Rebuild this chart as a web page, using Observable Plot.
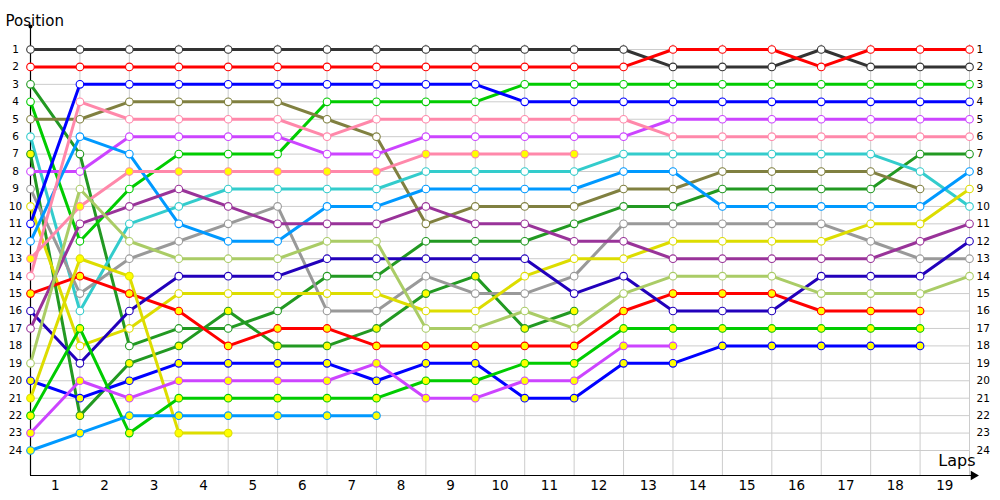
<!DOCTYPE html>
<html><head><meta charset="utf-8">
<script src="https://cdn.jsdelivr.net/npm/d3@7"></script>
<script src="https://cdn.jsdelivr.net/npm/@observablehq/plot@0.6"></script>
<style>body{margin:0;background:#fff}svg{display:block}</style>
</head><body><div id="chart"></div>
<script>
// Laps (0 = start grid)
const laps = [0,1,2,3,4,5,6,7,8,9,10,11,12,13,14,15,16,17,18,19];
const lapLabels = ["1","2","3","4","5","6","7","8","9","10","11","12","13","14","15","16","17","18","19"];
const positionTicks = [1,2,3,4,5,6,7,8,9,10,11,12,13,14,15,16,17,18,19,20,21,22,23,24];

// Drivers (identified by line colour), colour, yellow-marker flag
const driverNames = ["darkgray","red","darkgreen","green","olive","cyan","darkgreenY","magenta","gray","yellow","blue","lightblue","pinkY","pink","redY","navy","purple","lightgreen","blueY","yellowY","greenY","magentaY","lightblueY"];
const driverColors = ["#333333","#ff0000","#229922","#00cc00","#808040","#33cccc","#229922","#cc44ff","#999999","#dddd00","#0000ff","#0099ff","#ff88aa","#ff88aa","#ff0000","#2200bb","#993399","#aacc66","#0000ff","#dddd00","#00cc00","#cc44ff","#0099ff"];
const driverYellow = [0,0,0,0,0,0,1,0,0,0,0,0,1,0,1,0,0,0,1,1,1,1,1];

// Positions per lap (lap 0..19), null = not running
const posDarkgray   = [1,1,1,1,1,1,1,1,1,1,1,1,1,2,2,2,1,2,2,2];
const posRed        = [2,2,2,2,2,2,2,2,2,2,2,2,2,1,1,1,2,1,1,1];
const posDarkgreen  = [3,7,18,17,17,16,14,14,12,12,12,11,10,10,9,9,9,9,7,7];
const posGreen      = [4,12,9,7,7,7,4,4,4,4,3,3,3,3,3,3,3,3,3,3];
const posOlive      = [5,5,4,4,4,4,5,6,11,10,10,10,9,9,8,8,8,8,9,null];
const posCyan       = [6,16,11,10,9,9,9,9,8,8,8,8,7,7,7,7,7,7,8,10];
const posDarkgreenY = [7,22,19,18,16,18,18,17,15,14,17,16,null,null,null,null,null,null,null,null];
const posMagenta    = [8,8,6,6,6,6,7,7,6,6,6,6,6,5,5,5,5,5,5,5];
const posGray       = [9,15,13,12,11,10,16,16,14,15,15,14,11,11,11,11,11,12,13,13];
const posYellow     = [10,18,17,15,15,15,15,15,16,16,14,13,13,12,12,12,12,11,11,9];
const posBlue       = [11,3,3,3,3,3,3,3,3,3,4,4,4,4,4,4,4,4,4,4];
const posLightblue  = [12,6,7,11,12,12,10,10,9,9,9,9,8,8,10,10,10,10,10,8];
const posPinkY      = [13,10,8,8,8,8,8,8,7,7,7,7,null,null,null,null,null,null,null,null];
const posPink       = [14,4,5,5,5,5,6,5,5,5,5,5,5,6,6,6,6,6,6,6];
const posRedY       = [15,14,15,16,18,17,17,18,18,18,18,18,16,15,15,15,16,16,16,null];
const posNavy       = [16,19,16,14,14,14,13,13,13,13,13,15,14,16,16,16,14,14,14,12];
const posPurple     = [17,11,10,9,10,11,11,11,10,11,11,12,12,13,13,13,13,13,12,11];
const posLightgreen = [19,9,12,13,13,13,12,12,17,17,16,17,15,14,14,14,15,15,15,14];
const posBlueY      = [20,21,20,19,19,19,19,20,19,19,21,21,19,19,18,18,18,18,18,null];
const posYellowY    = [21,13,14,23,23,null,null,null,null,null,null,null,null,null,null,null,null,null,null,null];
const posGreenY     = [22,17,23,21,21,21,21,21,20,20,19,19,17,17,17,17,17,17,17,null];
const posMagentaY   = [23,20,21,20,20,20,20,19,21,21,20,20,18,18,null,null,null,null,null,null];
const posLightblueY = [24,23,22,22,22,22,22,22,null,null,null,null,null,null,null,null,null,null,null,null];

const positionSeries = [posDarkgray,posRed,posDarkgreen,posGreen,posOlive,posCyan,posDarkgreenY,posMagenta,posGray,posYellow,posBlue,posLightblue,posPinkY,posPink,posRedY,posNavy,posPurple,posLightgreen,posBlueY,posYellowY,posGreenY,posMagentaY,posLightblueY];

const rows = [];
positionSeries.forEach((series, di) => {
  series.forEach((p, li) => {
    if (p != null) rows.push({driver: driverNames[di], lap: laps[li], pos: p, color: driverColors[di], mfill: driverYellow[di] ? "#ffff00" : "#ffffff"});
  });
});

const font = "DejaVu Sans, Verdana, sans-serif";
const chart = Plot.plot({
  width: 1000, height: 500,
  marginLeft: 30, marginRight: 31, marginTop: 49, marginBottom: 50,
  x: {domain: [laps[0], laps[laps.length - 1]], axis: null},
  y: {domain: [positionTicks[0], positionTicks[positionTicks.length - 1]], reverse: true, axis: null},
  color: {type: "identity"},
  style: {fontFamily: font, background: "white", color: "black"},
  marks: [
    Plot.gridX(laps, {stroke: "#cccccc", strokeOpacity: 1, insetTop: -5, insetBottom: -25}),
    Plot.gridY(positionTicks, {stroke: "#cccccc", strokeOpacity: 1}),
    Plot.axisY(positionTicks, {anchor: "left", tickSize: 0, tickPadding: 15, textAnchor: "middle", fontSize: 10.5, label: null}),
    Plot.axisY(positionTicks, {anchor: "right", tickSize: 0, tickPadding: 7, textAnchor: "start", fontSize: 10.5, label: null}),
    Plot.text(lapLabels, {x: d => Number(d) - 0.5, text: d => d, frameAnchor: "bottom", dy: 39, fontSize: 13.5}),
    Plot.ruleX([laps[0]], {stroke: "black", strokeWidth: 1.2, insetTop: -23, insetBottom: -25}),
    Plot.dot([laps[0]], {x: d => d, frameAnchor: "top", dy: -23, r: 2, fill: "black"}),
    Plot.ruleY([positionTicks[positionTicks.length - 1]], {stroke: "black", strokeWidth: 1.2, dy: 25, insetRight: -6}),
    Plot.dot([laps[laps.length - 1]], {x: d => d, frameAnchor: "bottom", dx: 4, dy: 25, symbol: "triangle", rotate: 90, r: 3.5, fill: "black"}),
    Plot.text(["Position"], {text: d => d, frameAnchor: "top-left", dx: -25, dy: -34, textAnchor: "start", fontSize: 15}),
    Plot.text(["Laps"], {text: d => d, frameAnchor: "bottom-right", dx: 6, dy: 15, textAnchor: "end", fontSize: 16}),
    Plot.line(rows, {x: "lap", y: "pos", z: "driver", stroke: "color", strokeWidth: 3}),
    Plot.dot(rows, {x: "lap", y: "pos", stroke: "color", fill: "mfill", r: 3.8, strokeWidth: 1.1})
  ]
});
document.getElementById("chart").append(chart);
</script>
</body></html>
